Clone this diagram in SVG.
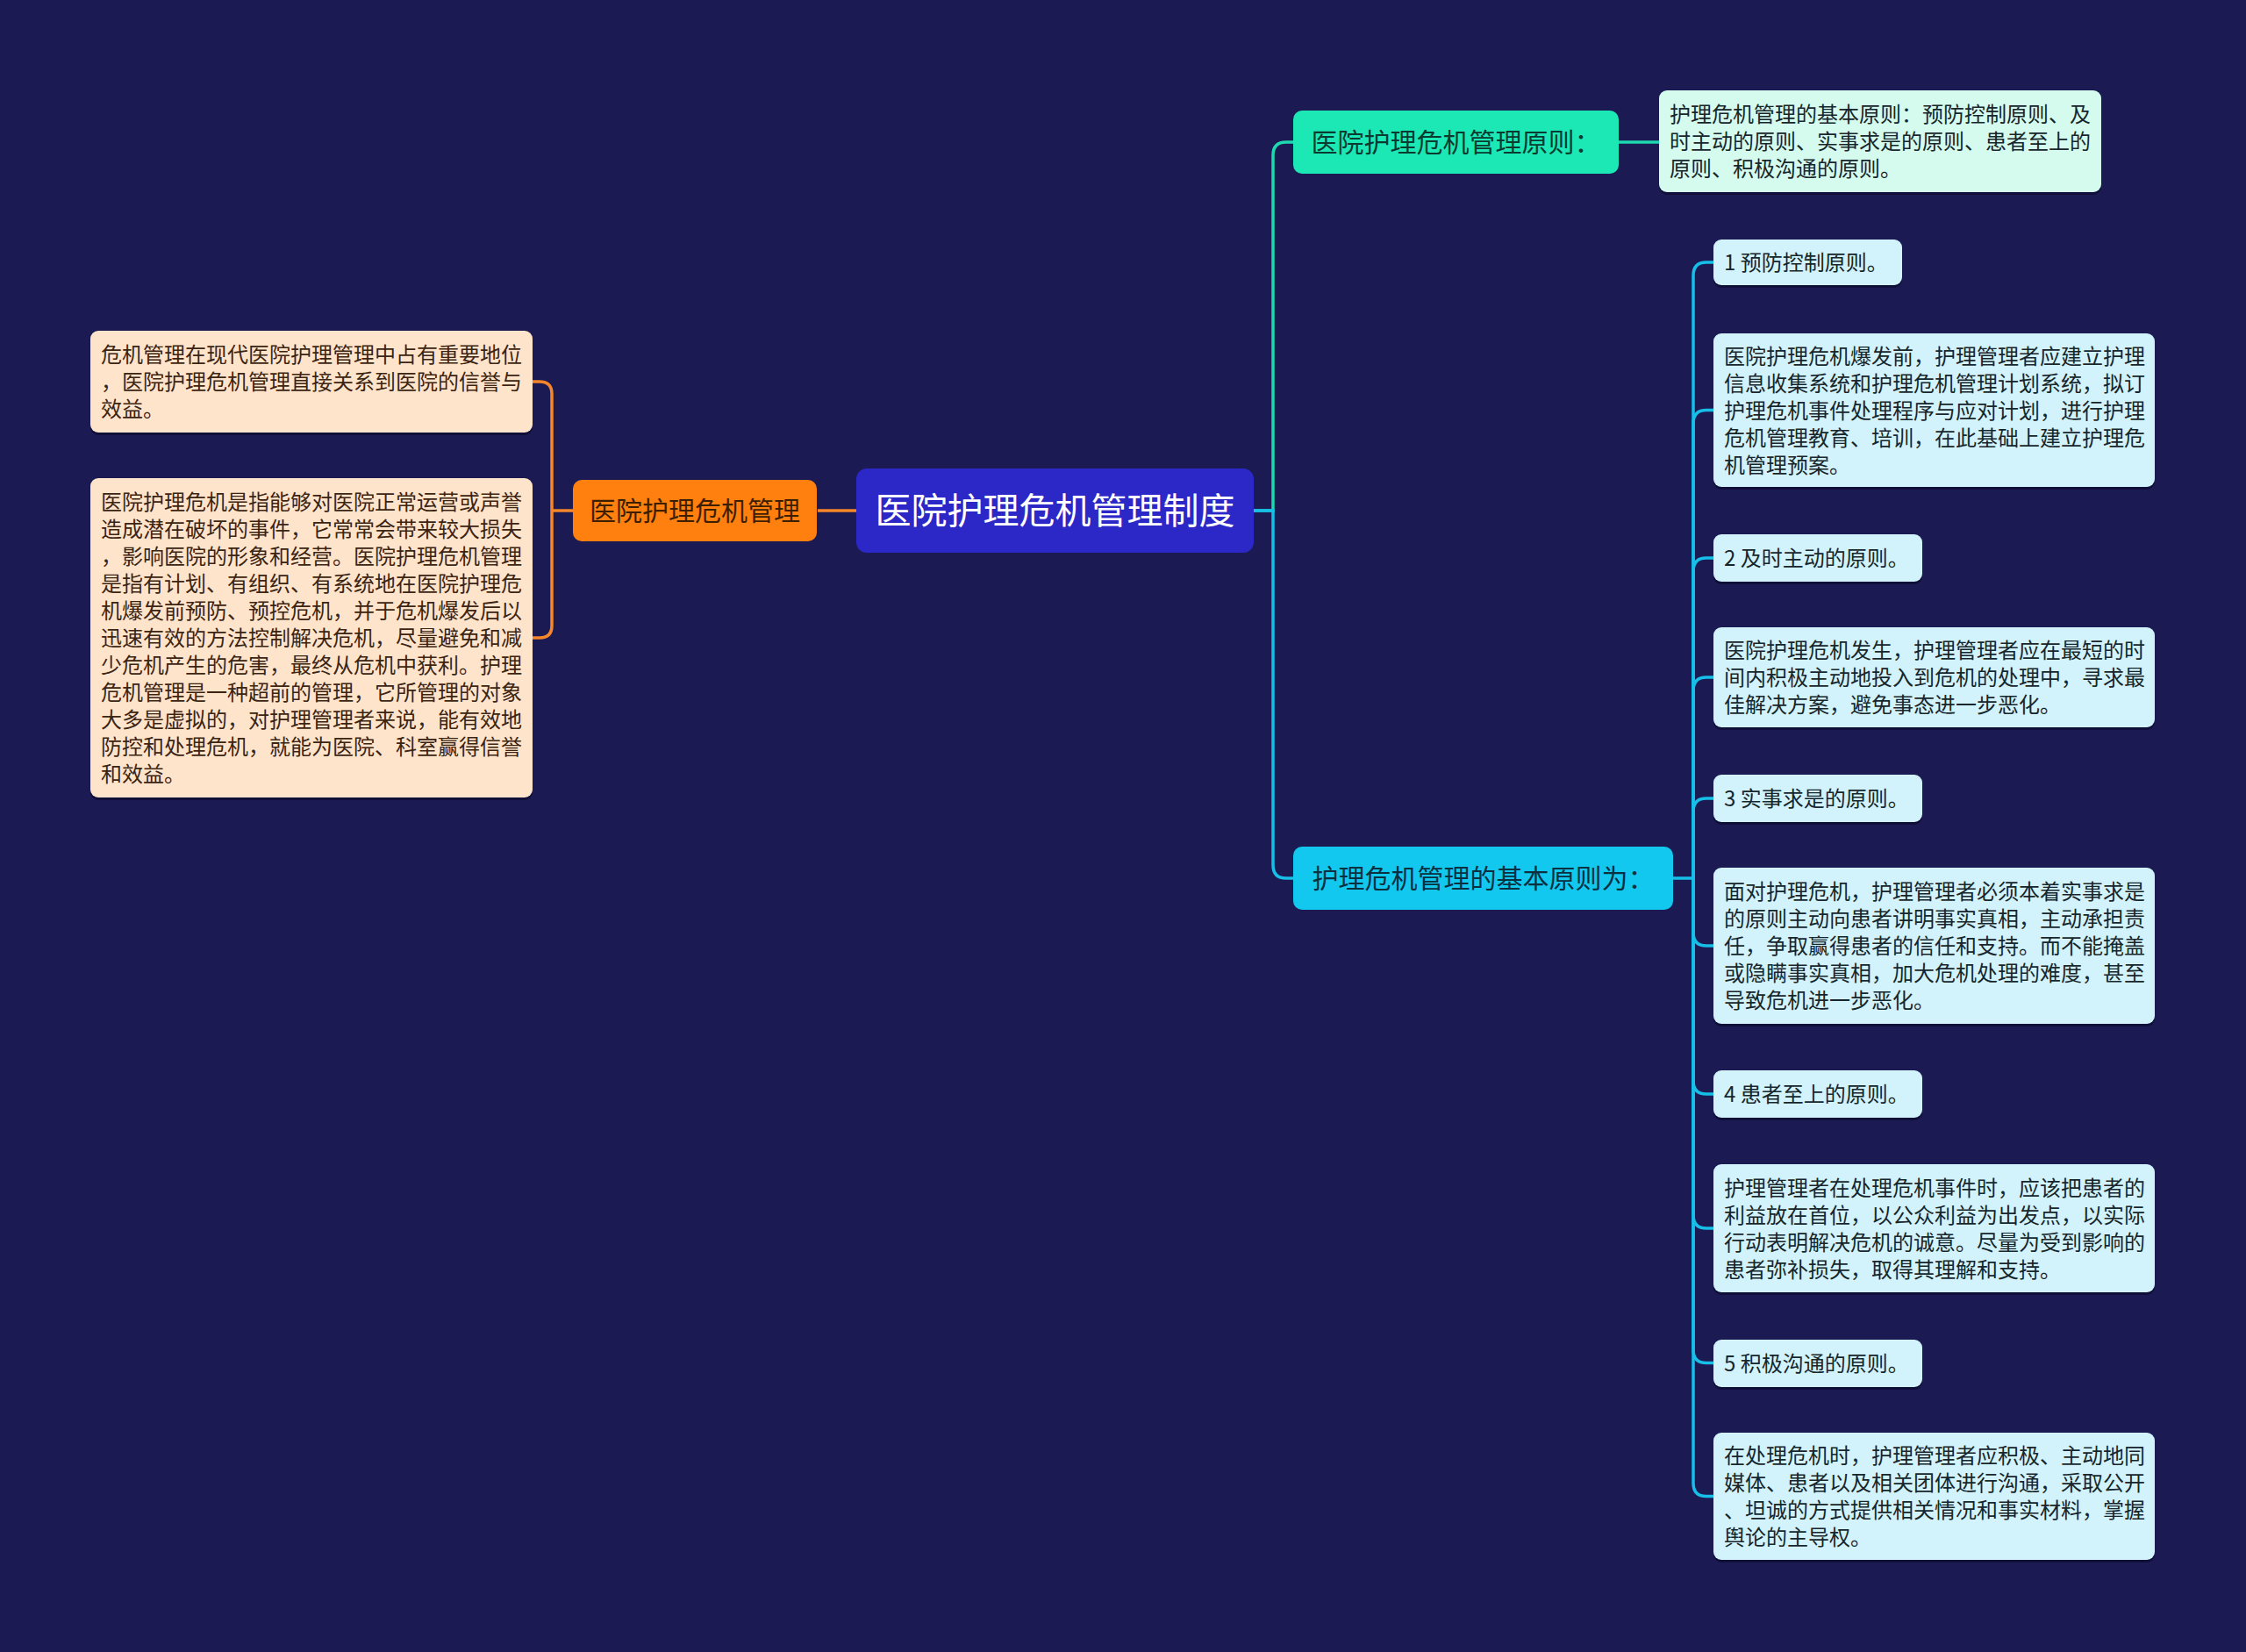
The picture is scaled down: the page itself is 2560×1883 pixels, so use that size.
<svg xmlns="http://www.w3.org/2000/svg" width="2560" height="1883" viewBox="0 0 2560 1883">
<defs>
<style>
text{font-family:"Noto Sans CJK SC","Noto Sans",sans-serif;}
.leaf{font-size:24px;}
.lf-l{fill:#ffe4cc;}
.lf-a{fill:#d4fbee;}
.lf-b{fill:#d2f3fb;}
.sh{fill:#100f3a;}
.t-l{fill:#3b2412;}
.t-b{fill:#16262c;}
.c-o{fill:none;stroke:#f5862a;stroke-width:3.5;}
.c-t{fill:none;stroke:#1ed9b0;stroke-width:3.5;}
.c-c{fill:none;stroke:#17bfe8;stroke-width:3.5;}
</style>
</defs>
<rect x="0" y="0" width="2560" height="1883" fill="#1b1a53"/>

<g id="connectors">
<path class="c-o" d="M932,582 H976"/>
<path class="c-o" d="M653,582 H629"/>
<path class="c-o" d="M607,435 H615 Q629,435 629,449 V713 Q629,727 615,727 H607"/>
<path class="c-t" d="M1429,582 H1451 V177 Q1451,162 1466,162 H1474"/>
<path class="c-c" d="M1429,582 H1451 V986 Q1451,1001 1466,1001 H1474"/>
<path class="c-t" d="M1845,162 H1891"/>
<path class="c-c" d="M1907,1001 H1930"/>
<path class="c-c" d="M1930,1001 V314 Q1930,299 1945,299 H1953"/>
<path class="c-c" d="M1930,1001 V482.5 Q1930,467.5 1945,467.5 H1953"/>
<path class="c-c" d="M1930,1001 V651 Q1930,636 1945,636 H1953"/>
<path class="c-c" d="M1930,1001 V787 Q1930,772 1945,772 H1953"/>
<path class="c-c" d="M1930,1001 V925 Q1930,910 1945,910 H1953"/>
<path class="c-c" d="M1930,1001 V1063 Q1930,1078 1945,1078 H1953"/>
<path class="c-c" d="M1930,1001 V1232 Q1930,1247 1945,1247 H1953"/>
<path class="c-c" d="M1930,1001 V1385 Q1930,1400 1945,1400 H1953"/>
<path class="c-c" d="M1930,1001 V1538.5 Q1930,1553.5 1945,1553.5 H1953"/>
<path class="c-c" d="M1930,1001 V1690.5 Q1930,1705.5 1945,1705.5 H1953"/>
</g>

<g id="root">
<rect x="976" y="534" width="453" height="96" rx="12" fill="#2c28c7"/>
<text x="1202.5" y="597" font-size="41" fill="#ffffff" text-anchor="middle">医院护理危机管理制度</text>
</g>

<g id="n-orange">
<rect x="653" y="547" width="278" height="70" rx="10" fill="#ff7f0f"/>
<text x="792" y="593" font-size="30" fill="#3d1f00" text-anchor="middle">医院护理危机管理</text>
</g>

<g id="l-left1">
<rect class="sh" x="103" y="380" width="504" height="116" rx="9"/>
<rect class="lf-l" x="103" y="377" width="504" height="116" rx="9"/>
<text class="leaf t-l" x="115" y="413"><tspan x="115">危机管理在现代医院护理管理中占有重要地位</tspan><tspan x="115" dy="31">，医院护理危机管理直接关系到医院的信誉与</tspan><tspan x="115" dy="31">效益。</tspan></text>
</g>

<g id="l-left2">
<rect class="sh" x="103" y="548" width="504" height="364" rx="9"/>
<rect class="lf-l" x="103" y="545" width="504" height="364" rx="9"/>
<text class="leaf t-l" x="115" y="581"><tspan x="115">医院护理危机是指能够对医院正常运营或声誉</tspan><tspan x="115" dy="31">造成潜在破坏的事件，它常常会带来较大损失</tspan><tspan x="115" dy="31">，影响医院的形象和经营。医院护理危机管理</tspan><tspan x="115" dy="31">是指有计划、有组织、有系统地在医院护理危</tspan><tspan x="115" dy="31">机爆发前预防、预控危机，并于危机爆发后以</tspan><tspan x="115" dy="31">迅速有效的方法控制解决危机，尽量避免和减</tspan><tspan x="115" dy="31">少危机产生的危害，最终从危机中获利。护理</tspan><tspan x="115" dy="31">危机管理是一种超前的管理，它所管理的对象</tspan><tspan x="115" dy="31">大多是虚拟的，对护理管理者来说，能有效地</tspan><tspan x="115" dy="31">防控和处理危机，就能为医院、科室赢得信誉</tspan><tspan x="115" dy="31">和效益。</tspan></text>
</g>

<g id="n-a">
<rect x="1474" y="126" width="371" height="72" rx="10" fill="#1ce8b5"/>
<text x="1659.5" y="173" font-size="30" fill="#0b3b30" text-anchor="middle">医院护理危机管理原则：</text>
</g>

<g id="l-a1">
<rect class="sh" x="1891" y="106" width="504" height="116" rx="9"/>
<rect class="lf-a" x="1891" y="103" width="504" height="116" rx="9"/>
<text class="leaf t-b" x="1903" y="139"><tspan x="1903">护理危机管理的基本原则：预防控制原则、及</tspan><tspan x="1903" dy="31">时主动的原则、实事求是的原则、患者至上的</tspan><tspan x="1903" dy="31">原则、积极沟通的原则。</tspan></text>
</g>

<g id="n-b">
<rect x="1474" y="965" width="433" height="72" rx="10" fill="#12c8ef"/>
<text x="1690.5" y="1012" font-size="30" fill="#0b3040" text-anchor="middle">护理危机管理的基本原则为：</text>
</g>

<g id="b1">
<rect class="sh" x="1953" y="276" width="215" height="52" rx="9"/>
<rect class="lf-b" x="1953" y="273" width="215" height="52" rx="9"/>
<text class="leaf t-b" x="1965" y="308">1 预防控制原则。</text>
</g>
<g id="b1d">
<rect class="sh" x="1953" y="383" width="503" height="175" rx="9"/>
<rect class="lf-b" x="1953" y="380" width="503" height="175" rx="9"/>
<text class="leaf t-b" x="1965" y="414.5"><tspan x="1965">医院护理危机爆发前，护理管理者应建立护理</tspan><tspan x="1965" dy="31">信息收集系统和护理危机管理计划系统，拟订</tspan><tspan x="1965" dy="31">护理危机事件处理程序与应对计划，进行护理</tspan><tspan x="1965" dy="31">危机管理教育、培训，在此基础上建立护理危</tspan><tspan x="1965" dy="31">机管理预案。</tspan></text>
</g>

<g id="b2">
<rect class="sh" x="1953" y="612" width="238" height="54" rx="9"/>
<rect class="lf-b" x="1953" y="609" width="238" height="54" rx="9"/>
<text class="leaf t-b" x="1965" y="645">2 及时主动的原则。</text>
</g>
<g id="b2d">
<rect class="sh" x="1953" y="718" width="503" height="114" rx="9"/>
<rect class="lf-b" x="1953" y="715" width="503" height="114" rx="9"/>
<text class="leaf t-b" x="1965" y="750"><tspan x="1965">医院护理危机发生，护理管理者应在最短的时</tspan><tspan x="1965" dy="31">间内积极主动地投入到危机的处理中，寻求最</tspan><tspan x="1965" dy="31">佳解决方案，避免事态进一步恶化。</tspan></text>
</g>

<g id="b3">
<rect class="sh" x="1953" y="886" width="238" height="54" rx="9"/>
<rect class="lf-b" x="1953" y="883" width="238" height="54" rx="9"/>
<text class="leaf t-b" x="1965" y="919">3 实事求是的原则。</text>
</g>
<g id="b3d">
<rect class="sh" x="1953" y="992" width="503" height="178" rx="9"/>
<rect class="lf-b" x="1953" y="989" width="503" height="178" rx="9"/>
<text class="leaf t-b" x="1965" y="1025"><tspan x="1965">面对护理危机，护理管理者必须本着实事求是</tspan><tspan x="1965" dy="31">的原则主动向患者讲明事实真相，主动承担责</tspan><tspan x="1965" dy="31">任，争取赢得患者的信任和支持。而不能掩盖</tspan><tspan x="1965" dy="31">或隐瞒事实真相，加大危机处理的难度，甚至</tspan><tspan x="1965" dy="31">导致危机进一步恶化。</tspan></text>
</g>

<g id="b4">
<rect class="sh" x="1953" y="1223" width="238" height="54" rx="9"/>
<rect class="lf-b" x="1953" y="1220" width="238" height="54" rx="9"/>
<text class="leaf t-b" x="1965" y="1256">4 患者至上的原则。</text>
</g>
<g id="b4d">
<rect class="sh" x="1953" y="1330" width="503" height="146" rx="9"/>
<rect class="lf-b" x="1953" y="1327" width="503" height="146" rx="9"/>
<text class="leaf t-b" x="1965" y="1362.5"><tspan x="1965">护理管理者在处理危机事件时，应该把患者的</tspan><tspan x="1965" dy="31">利益放在首位，以公众利益为出发点，以实际</tspan><tspan x="1965" dy="31">行动表明解决危机的诚意。尽量为受到影响的</tspan><tspan x="1965" dy="31">患者弥补损失，取得其理解和支持。</tspan></text>
</g>

<g id="b5">
<rect class="sh" x="1953" y="1530" width="238" height="54" rx="9"/>
<rect class="lf-b" x="1953" y="1527" width="238" height="54" rx="9"/>
<text class="leaf t-b" x="1965" y="1562.5">5 积极沟通的原则。</text>
</g>
<g id="b5d">
<rect class="sh" x="1953" y="1636" width="503" height="145" rx="9"/>
<rect class="lf-b" x="1953" y="1633" width="503" height="145" rx="9"/>
<text class="leaf t-b" x="1965" y="1668"><tspan x="1965">在处理危机时，护理管理者应积极、主动地同</tspan><tspan x="1965" dy="31">媒体、患者以及相关团体进行沟通，采取公开</tspan><tspan x="1965" dy="31">、坦诚的方式提供相关情况和事实材料，掌握</tspan><tspan x="1965" dy="31">舆论的主导权。</tspan></text>
</g>
</svg>
